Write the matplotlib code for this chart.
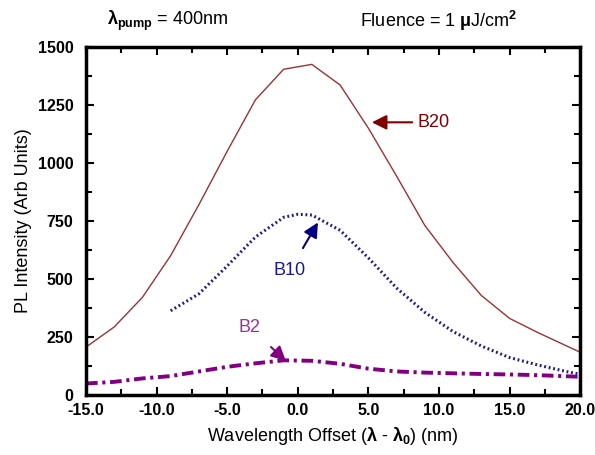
import numpy as np
import matplotlib
matplotlib.use('Agg')
import matplotlib.pyplot as plt
from matplotlib.ticker import MultipleLocator

plt.rcParams['font.family'] = ['Liberation Sans', 'DejaVu Sans']
plt.rcParams['mathtext.fontset'] = 'custom'
plt.rcParams['mathtext.rm'] = 'Liberation Sans'
plt.rcParams['mathtext.bf'] = 'Liberation Sans:bold'
plt.rcParams['mathtext.it'] = 'Liberation Sans:italic'

# B20 sample - solid
b20_x = [-15, -13, -11, -9, -7, -5, -3, -1, 1, 3, 5, 7, 9, 11, 13, 15, 17, 20]
b20_y = [205, 292, 420, 600, 820, 1050, 1272, 1404, 1425, 1336, 1150, 943, 730, 570, 428, 329, 268, 183]

# B10 sample - dotted
b10_x = [-9, -7, -5, -3, -1, 0, 1, 3, 5, 7, 9, 11, 13, 15, 17, 19, 20]
b10_y = [362, 435, 555, 680, 765, 778, 775, 709, 590, 460, 355, 272, 210, 160, 128, 100, 88]

# B2 sample - dash dot
b2_x = [-15, -13, -11, -9, -7, -5, -3, -1, 1, 3, 5, 7, 9, 11, 13, 15, 17, 20]
b2_y = [48, 55, 70, 80, 100, 120, 135, 148, 146, 133, 112, 100, 95, 92, 89, 87, 84, 77]

fig = plt.figure(figsize=(5.95, 4.55), dpi=100)
ax = fig.add_axes([0.1445, 0.1327, 0.8305, 0.764])

ax.plot(b20_x, b20_y, color='#993333', lw=1.0)
ax.plot(b10_x, b10_y, color='#1a1a8c', lw=2.2, linestyle=(0, (0.6, 0.9)))
ax.plot(b2_x, b2_y, color='#800080', lw=2.8, linestyle=(0, (3, 1.2, 0.8, 1.2)))

ax.set_xlim(-15, 20)
ax.set_ylim(0, 1500)
ax.xaxis.set_major_locator(MultipleLocator(5))
ax.xaxis.set_minor_locator(MultipleLocator(2.5))
ax.yaxis.set_major_locator(MultipleLocator(250))
ax.yaxis.set_minor_locator(MultipleLocator(125))
ax.set_xticklabels(['%.1f' % v for v in ax.get_xticks()])
ax.tick_params(which='both', direction='in', top=True, right=True, width=1.5)
ax.tick_params(which='major', length=6, labelsize=11.5)
ax.tick_params(axis='x', pad=6)
ax.tick_params(axis='y', pad=9)
ax.tick_params(which='minor', length=4)
for lbl in ax.get_xticklabels() + ax.get_yticklabels():
    lbl.set_fontweight('bold')
for sp in ax.spines.values():
    sp.set_linewidth(2.5)

ax.set_xlabel(r'Wavelength Offset ($\mathbf{\lambda}$ - $\mathbf{\lambda_0}$) (nm)', fontsize=13, labelpad=5)
ax.set_ylabel('PL Intensity (Arb Units)', fontsize=13, labelpad=4)

fig.text(0.18, 0.955, r'$\mathbf{\lambda_{pump}}$ = 400nm', fontsize=13, va='center')
fig.text(0.605, 0.955, r'Fluence = 1 $\mathbf{\mu}$J/cm$^\mathbf{2}$', fontsize=13, va='center')

ax.annotate('B20', xy=(5.25, 1175), xytext=(8.5, 1175), color='#800000', fontsize=13,
            ha='left', va='center',
            arrowprops=dict(arrowstyle='-|>', color='#800000', lw=1.5, mutation_scale=22, shrinkA=2, shrinkB=0))
ax.annotate('B10', xy=(1.43, 743), xytext=(-0.55, 537), color='#1a1a8c', fontsize=13,
            ha='center', va='center',
            arrowprops=dict(arrowstyle='-|>', color='#000080', lw=1.5, mutation_scale=22, shrinkA=9, shrinkB=0))
ax.annotate('B2', xy=(-0.84, 145), xytext=(-3.39, 291), color='#993399', fontsize=13,
            ha='center', va='center',
            arrowprops=dict(arrowstyle='-|>', color='#800080', lw=1.5, mutation_scale=22, shrinkA=9, shrinkB=0))

fig.savefig('out.png', dpi=100)
